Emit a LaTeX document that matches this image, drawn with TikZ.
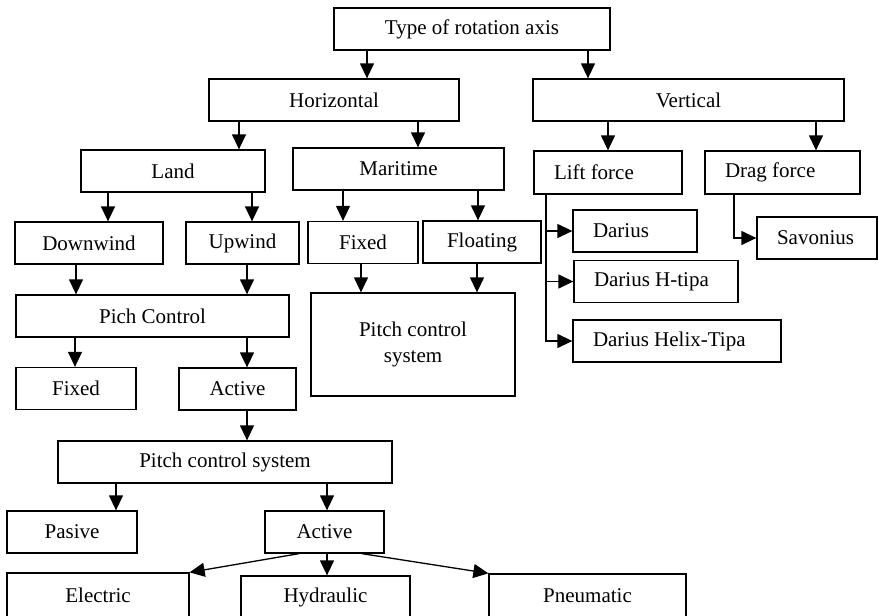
\documentclass[tikz,border=0pt]{standalone}
\usepackage{fontspec}
\setmainfont{Liberation Serif}
\usetikzlibrary{arrows.meta}
\newcommand{\dn}[3]{\draw[arr] (#3,0 |- #1.south) -- (#3,0 |- #2.north);}

\begin{document}
\begin{tikzpicture}[x=0.5pt,y=-0.5pt]
  \tikzset{box/.style={draw,line width=0.65pt,minimum height=21pt,inner sep=2pt,
                       font=\fontsize{10.5}{12.6}\selectfont},
           lbox/.style={box,align=flush left,inner xsep=10pt},
           arr/.style={line width=0.65pt,-{Triangle[length=7.5pt,width=7pt]}}}
  \useasboundingbox (0,0) rectangle (879,616);
  \node[box,minimum width=138pt] (Type) at (472,29) {Type of rotation axis};
  \node[box,minimum width=125pt] (Horiz) at (334,100) {Horizontal};
  \node[box,minimum width=155.5pt] (Vert) at (688.5,100) {Vertical};
  \node[box,minimum width=92pt] (Land) at (173,171) {Land};
  \node[box,minimum width=105.5pt] (Mar) at (398.5,169) {Maritime};
  \node[lbox,text width=54pt,minimum height=21.5pt] (Lift) at (608,172.5) {Lift force};
  \node[lbox,text width=57.5pt,minimum height=21.5pt] (Drag) at (782.5,172.5) {Drag force};
  \node[box,minimum width=74pt] (Down) at (89,243) {Downwind};
  \node[box,minimum width=56.5pt] (Up) at (242.5,243) {Upwind};
  \node[box,minimum width=55pt] (FixM) at (363,242.5) {Fixed};
  \node[box,minimum width=59pt] (Float) at (482,242) {Floating};
  \node[lbox,text width=42pt] (Dar) at (635,231) {Darius};
  \node[lbox,text width=40pt] (Sav) at (817,238) {Savonius};
  \node[lbox,text width=62pt] (DarH) at (656,281.5) {Darius H-tipa};
  \node[lbox,text width=84pt] (DarHx) at (677,341) {Darius Helix-Tipa};
  \node[box,minimum width=136.5pt] (Pich) at (152.5,316) {Pich Control};
  \node[box,minimum width=102pt,minimum height=51.5pt,align=center] (PCSm) at (413,344.5) {Pitch control\\system};
  \node[box,minimum width=60pt] (FixL) at (76,388.5) {Fixed};
  \node[box,minimum width=58.5pt] (ActL) at (237.5,389) {Active};
  \node[box,minimum width=167pt] (PCS) at (225,462) {Pitch control system};
  \node[box,minimum width=65pt] (Pas) at (72,532) {Pasive};
  \node[box,minimum width=59.5pt] (Act) at (324.5,532) {Active};
  \node[box,minimum width=91pt,minimum height=22.5pt] (Elec) at (98,595.5) {Electric};
  \node[box,minimum width=84.5pt] (Hyd) at (325.5,597) {Hydraulic};
  \node[box,minimum width=98.5pt,minimum height=22pt] (Pneu) at (587.5,596) {Pneumatic};
  % tree arrows
  \dn{Type}{Horiz}{367} \dn{Type}{Vert}{588}
  \dn{Horiz}{Land}{239} \dn{Horiz}{Mar}{418}
  \dn{Vert}{Lift}{608} \dn{Vert}{Drag}{816}
  \dn{Land}{Down}{108} \dn{Land}{Up}{252}
  \dn{Mar}{FixM}{343} \dn{Mar}{Float}{478}
  \dn{Down}{Pich}{76} \dn{Up}{Pich}{247}
  \dn{FixM}{PCSm}{361} \dn{Float}{PCSm}{477}
  \dn{Pich}{FixL}{75} \dn{Pich}{ActL}{247}
  \dn{ActL}{PCS}{247}
  \dn{PCS}{Pas}{116} \dn{PCS}{Act}{327}
  \dn{Act}{Hyd}{327}
  \draw[arr] (299,0 |- Act.south) -- (Elec.north east);
  \draw[arr] (362,0 |- Act.south) -- (Pneu.north west);
  % vertical axis branches
  \coordinate (LiftBus) at (546,0);
  \draw[arr] (LiftBus |- Lift.south) |- (Dar.west);
  \draw[arr] (LiftBus |- Lift.south) |- (DarH.west);
  \draw[arr] (LiftBus |- Lift.south) |- (DarHx.west);
  \draw[arr] (734,0 |- Drag.south) |- (Sav.west);
\end{tikzpicture}
\end{document}
